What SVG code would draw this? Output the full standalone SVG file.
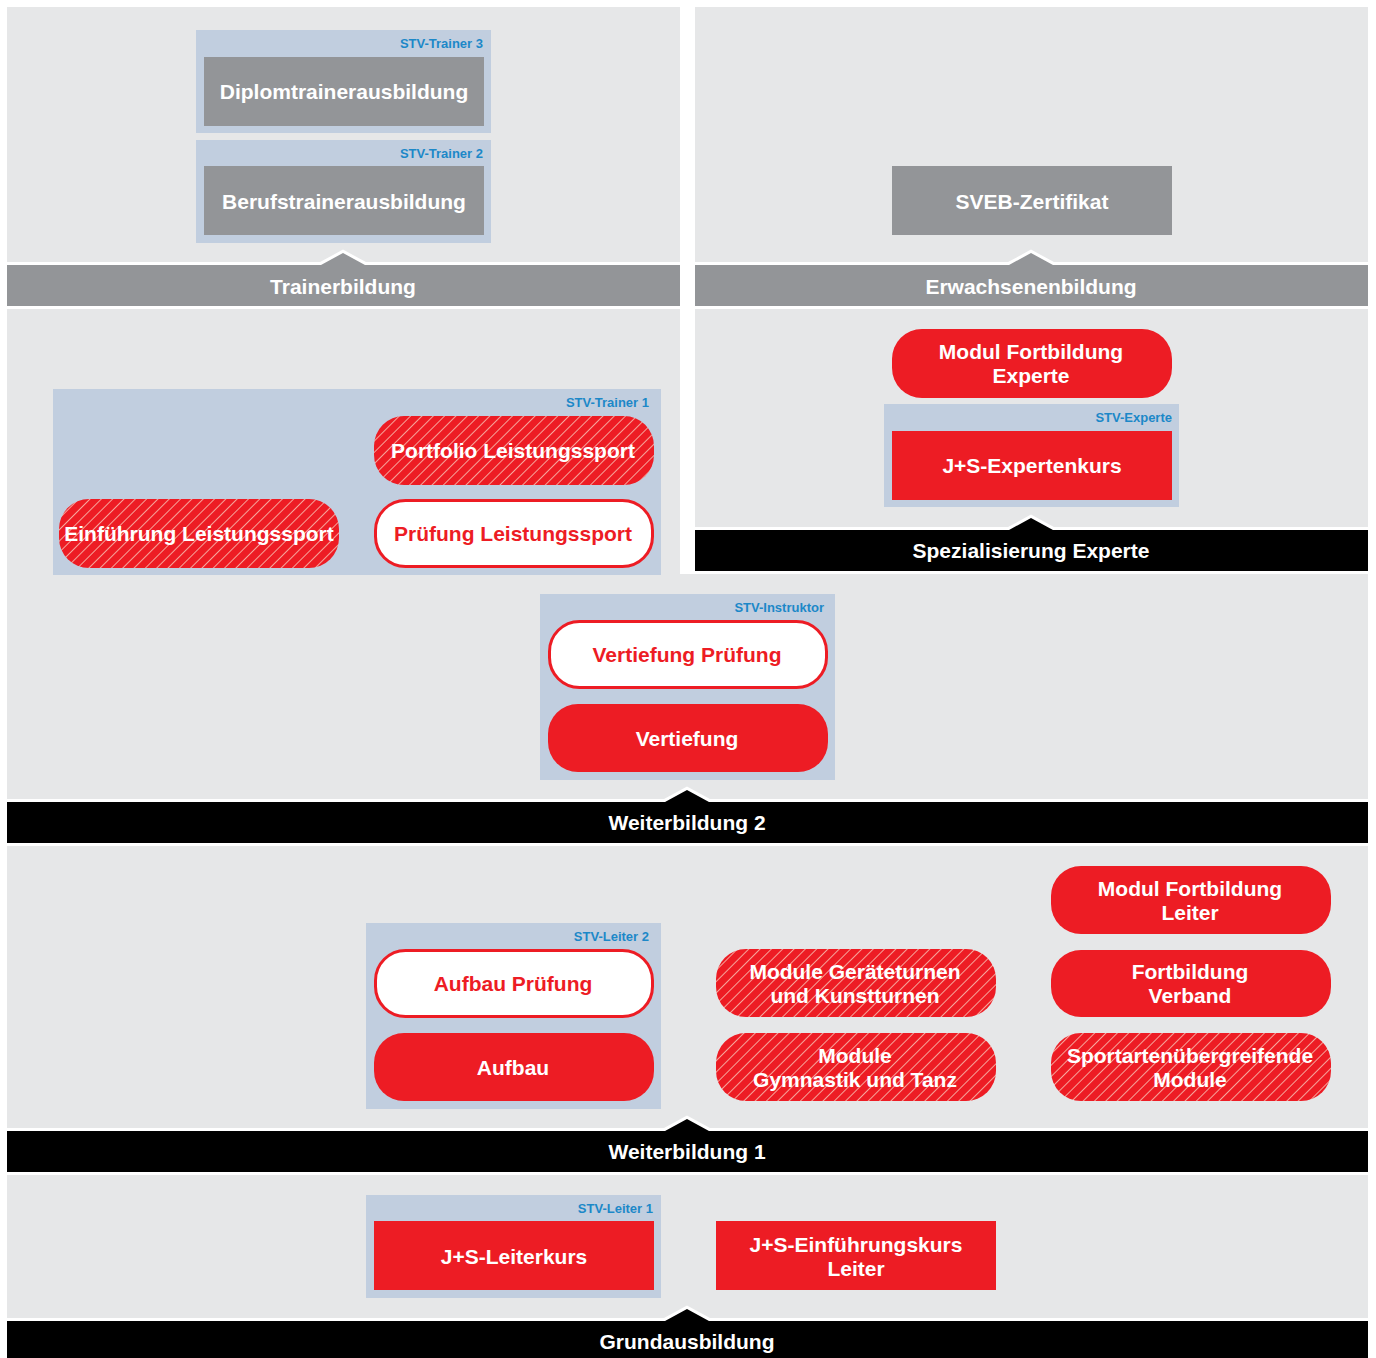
<svg xmlns="http://www.w3.org/2000/svg" width="1376" height="1358" viewBox="0 0 1376 1358">
<style>
text{font-family:"Liberation Sans",Arial,sans-serif;font-weight:bold;}
.panel{fill:#e6e7e8;}
.group{fill:#c1cedf;}
.lbl{fill:#1c88c8;font-size:13px;text-anchor:end;}
.gbox{fill:#939598;}
.red{fill:#ed1c24;}
.hatch{fill:url(#hatch);}
.outline{fill:#ffffff;stroke:#ed1c24;stroke-width:3;}
.wt{fill:#ffffff;font-size:21px;text-anchor:middle;}
.rt{fill:#ed1c24;font-size:21px;text-anchor:middle;}
.bar{stroke:#ffffff;stroke-width:6;paint-order:stroke;stroke-linejoin:miter;}
.bgrey{fill:#939598;}
.bblack{fill:#000000;}
</style>
<defs>
<pattern id="hatch" width="8" height="8" patternUnits="userSpaceOnUse" patternTransform="rotate(45)">
<rect width="8" height="8" fill="#ed1c24"/>
<line x1="0" y1="0" x2="0" y2="8" stroke="#f6a59b" stroke-width="2"/>
</pattern>
</defs>
<rect width="1376" height="1358" fill="#ffffff"/>
<g id="panels">
<rect class="panel" x="7" y="7" width="673" height="258"/>
<rect class="panel" x="695" y="7" width="673" height="258"/>
<rect class="panel" x="7" y="306" width="673" height="496"/>
<rect class="panel" x="695" y="306" width="673" height="224"/>
<rect class="panel" x="7" y="574" width="1361" height="228"/>
<rect class="panel" x="7" y="843" width="1361" height="288"/>
<rect class="panel" x="7" y="1172" width="1361" height="149"/>
</g>
<g id="bars">
<g id="bar-trainerbildung">
<polygon class="bar bgrey" points="7,265 321,265 343,253 365,265 680,265 680,306 7,306"/>
<text class="wt" x="343" y="294">Trainerbildung</text>
</g>
<g id="bar-erwachsenenbildung">
<polygon class="bar bgrey" points="695,265 1009,265 1031,253 1053,265 1368,265 1368,306 695,306"/>
<text class="wt" x="1031" y="294">Erwachsenenbildung</text>
</g>
<g id="bar-spezialisierung">
<polygon class="bar bblack" points="695,530 1009,530 1031,518 1053,530 1368,530 1368,571 695,571"/>
<text class="wt" x="1031" y="558">Spezialisierung Experte</text>
</g>
<g id="bar-weiterbildung2">
<polygon class="bar bblack" points="7,802 665,802 687,790 709,802 1368,802 1368,843 7,843"/>
<text class="wt" x="687" y="830">Weiterbildung 2</text>
</g>
<g id="bar-weiterbildung1">
<polygon class="bar bblack" points="7,1131 665,1131 687,1119 709,1131 1368,1131 1368,1172 7,1172"/>
<text class="wt" x="687" y="1159">Weiterbildung 1</text>
</g>
<g id="bar-grundausbildung">
<polygon class="bar bblack" points="7,1321 665,1321 687,1309 709,1321 1368,1321 1368,1365 7,1365"/>
<text class="wt" x="687" y="1349">Grundausbildung</text>
</g>
</g>
<g id="connectors"></g>
<g id="stv-trainer-3">
<rect class="group" x="196" y="30" width="295" height="103"/>
<text class="lbl" x="483" y="48">STV-Trainer 3</text>
<g id="diplomtrainerausbildung">
<rect class="gbox" x="204" y="57" width="280" height="69"/>
<text class="wt" x="344" y="99">Diplomtrainerausbildung</text>
</g>
</g>
<g id="stv-trainer-2">
<rect class="group" x="196" y="140" width="295" height="103"/>
<text class="lbl" x="483" y="158">STV-Trainer 2</text>
<g id="berufstrainerausbildung">
<rect class="gbox" x="204" y="166" width="280" height="69"/>
<text class="wt" x="344" y="209">Berufstrainerausbildung</text>
</g>
</g>
<g id="sveb-zertifikat">
<rect class="gbox" x="892" y="166" width="280" height="69"/>
<text class="wt" x="1032" y="209">SVEB-Zertifikat</text>
</g>
<g id="stv-trainer-1">
<rect class="group" x="53" y="389" width="608" height="186"/>
<text class="lbl" x="649" y="407">STV-Trainer 1</text>
<g id="portfolio-leistungssport">
<rect class="hatch" x="374" y="416" width="280" height="69" rx="30"/>
<text class="wt" x="513" y="458">Portfolio Leistungssport</text>
</g>
<g id="pruefung-leistungssport">
<rect class="outline" x="375.5" y="500.5" width="277" height="66" rx="30"/>
<text class="rt" x="513" y="541">Prüfung Leistungssport</text>
</g>
<g id="einfuehrung-leistungssport">
<rect class="hatch" x="59" y="499" width="280" height="69" rx="30"/>
<text class="wt" x="199" y="541">Einführung Leistungssport</text>
</g>
</g>
<g id="modul-fortbildung-experte">
<rect class="red" x="892" y="329" width="280" height="69" rx="30"/>
<text class="wt" x="1031" y="359">Modul Fortbildung</text>
<text class="wt" x="1031" y="383">Experte</text>
</g>
<g id="stv-experte">
<rect class="group" x="884" y="404" width="295" height="103"/>
<text class="lbl" x="1172" y="422">STV-Experte</text>
<g id="js-expertenkurs">
<rect class="red" x="892" y="431" width="280" height="69"/>
<text class="wt" x="1032" y="473">J+S-Expertenkurs</text>
</g>
</g>
<g id="stv-instruktor">
<rect class="group" x="540" y="594" width="295" height="186"/>
<text class="lbl" x="824" y="612">STV-Instruktor</text>
<g id="vertiefung-pruefung">
<rect class="outline" x="549.5" y="621.5" width="277" height="66" rx="30"/>
<text class="rt" x="687" y="662">Vertiefung Prüfung</text>
</g>
<g id="vertiefung">
<rect class="red" x="548" y="704" width="280" height="68" rx="30"/>
<text class="wt" x="687" y="746">Vertiefung</text>
</g>
</g>
<g id="stv-leiter-2">
<rect class="group" x="366" y="923" width="295" height="186"/>
<text class="lbl" x="649" y="941">STV-Leiter 2</text>
<g id="aufbau-pruefung">
<rect class="outline" x="375.5" y="950.5" width="277" height="66" rx="30"/>
<text class="rt" x="513" y="991">Aufbau Prüfung</text>
</g>
<g id="aufbau">
<rect class="red" x="374" y="1033" width="280" height="68" rx="30"/>
<text class="wt" x="513" y="1075">Aufbau</text>
</g>
</g>
<g id="module-geraeteturnen">
<rect class="hatch" x="716" y="949" width="280" height="68" rx="30"/>
<text class="wt" x="855" y="979">Module Geräteturnen</text>
<text class="wt" x="855" y="1003">und Kunstturnen</text>
</g>
<g id="module-gymnastik">
<rect class="hatch" x="716" y="1033" width="280" height="68" rx="30"/>
<text class="wt" x="855" y="1063">Module</text>
<text class="wt" x="855" y="1087">Gymnastik und Tanz</text>
</g>
<g id="modul-fortbildung-leiter">
<rect class="red" x="1051" y="866" width="280" height="68" rx="30"/>
<text class="wt" x="1190" y="896">Modul Fortbildung</text>
<text class="wt" x="1190" y="920">Leiter</text>
</g>
<g id="fortbildung-verband">
<rect class="red" x="1051" y="950" width="280" height="67" rx="30"/>
<text class="wt" x="1190" y="979">Fortbildung</text>
<text class="wt" x="1190" y="1003">Verband</text>
</g>
<g id="sportartenuebergreifende-module">
<rect class="hatch" x="1051" y="1033" width="280" height="68" rx="30"/>
<text class="wt" x="1190" y="1063">Sportartenübergreifende</text>
<text class="wt" x="1190" y="1087">Module</text>
</g>
<g id="stv-leiter-1">
<rect class="group" x="366" y="1195" width="295" height="103"/>
<text class="lbl" x="653" y="1213">STV-Leiter 1</text>
<g id="js-leiterkurs">
<rect class="red" x="374" y="1221" width="280" height="69"/>
<text class="wt" x="514" y="1264">J+S-Leiterkurs</text>
</g>
</g>
<g id="js-einfuehrungskurs-leiter">
<rect class="red" x="716" y="1221" width="280" height="69"/>
<text class="wt" x="856" y="1252">J+S-Einführungskurs</text>
<text class="wt" x="856" y="1276">Leiter</text>
</g>
</svg>
